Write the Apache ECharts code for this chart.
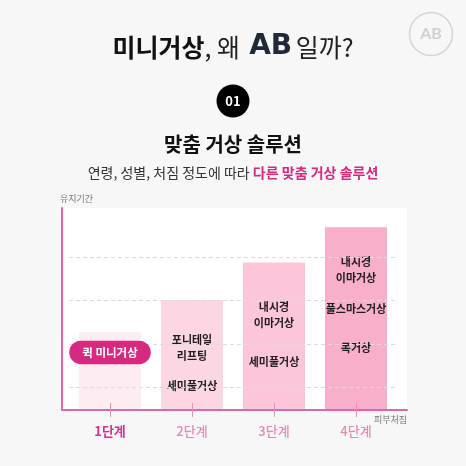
<!DOCTYPE html>
<html><head><meta charset="utf-8">
<script src="https://cdn.jsdelivr.net/npm/echarts@6/dist/echarts.min.js"></script>
<style>html,body{margin:0;padding:0;background:#f7f7f7;}#c{width:466px;height:466px;}</style>
</head><body><div id="c"></div>
<script>
// ---- data ----
const categories = ['1단계', '2단계', '3단계', '4단계'];
const durationValues = [38.5, 54.5, 73, 90.5];
const gridLevels = [11.5, 32.5, 54.5, 75.5];
const procedureNames = ['포니테일\n리프팅', '세미풀거상', '내시경\n이마거상', '세미풀거상', '내시경\n이마거상', '풀스마스거상', '목거상'];
const procedureStages = ['2단계', '2단계', '3단계', '3단계', '4단계', '4단계', '4단계'];
const procedureLevels = [30.7, 11.9, 47, 23.8, 69.3, 50, 30.7];
const highlightName = ['퀵 미니거상'];
const highlightStage = ['1단계'];
const highlightLevel = [28.5];

// ---- styles ----
const FONT = '"Noto Sans CJK KR", "Noto Sans", sans-serif';
const PINK = '#d52a80';
const AXIS = '#e066a6';
const barColors = ['#fdedf3', '#fdd6e4', '#fcc5da', '#f9aecb'];

const chart = echarts.init(document.getElementById('c'), null, {renderer: 'canvas'});
chart.setOption({
  backgroundColor: '#f7f7f7',
  animation: false,
  textStyle: {fontFamily: FONT},
  grid: [
    {left: 62, right: 59, top: 208, bottom: 56, show: true, backgroundColor: '#ffffff', borderWidth: 0},
    {left: 69, right: 69, top: 208, bottom: 56}
  ],
  xAxis: [
    {gridIndex: 0, type: 'value', min: 0, max: 1, z: 6,
     axisLine: {show: true, lineStyle: {color: AXIS, width: 2}},
     axisTick: {show: false}, axisLabel: {show: false}, splitLine: {show: false}},
    {gridIndex: 1, type: 'category', data: categories, position: 'bottom', z: 6,
     axisLine: {show: false},
     axisTick: {show: true, alignWithLabel: true, length: 7, lineStyle: {color: '#eb8fba', width: 1}},
     axisLabel: {margin: 15, fontFamily: FONT,
       formatter: (v, i) => i === 0 ? '{a|' + v + '}' : '{b|' + v + '}',
       rich: {a: {color: '#d3338a', fontSize: 13, fontWeight: 'bold', fontFamily: FONT},
              b: {color: '#e68ab5', fontSize: 13, fontWeight: 500, fontFamily: FONT}}},
     splitLine: {show: false}},
    {gridIndex: 1, type: 'category', data: categories, position: 'bottom', z: 6,
     axisLine: {show: false},
     axisTick: {show: true, inside: true, alignWithLabel: true, length: 7, lineStyle: {color: '#eb8fba', width: 1}},
     axisLabel: {show: false}, splitLine: {show: false}}
  ],
  yAxis: [
    {gridIndex: 0, type: 'value', min: 0, max: 1, z: 6,
     axisLine: {show: true, lineStyle: {color: AXIS, width: 2}},
     axisTick: {show: false}, axisLabel: {show: false}, splitLine: {show: false}},
    {gridIndex: 1, type: 'value', min: 0, max: 100, show: false, splitLine: {show: false}}
  ],
  series: [
    {type: 'line', xAxisIndex: 1, yAxisIndex: 1, data: [], z: 1, silent: true,
     markLine: {symbol: 'none', silent: true, label: {show: false},
       lineStyle: {color: '#dcdcdc', type: [4, 3], width: 1},
       data: gridLevels.map(v => ({yAxis: v}))}},
    {type: 'bar', xAxisIndex: 1, yAxisIndex: 1, barWidth: 62, z: 2,
     data: durationValues.map((v, i) => ({value: v, itemStyle: {color: barColors[i]}}))},
    {type: 'scatter', xAxisIndex: 1, yAxisIndex: 1, symbolSize: 0, z: 4,
     itemStyle: {opacity: 1},
     data: procedureNames.map((n, i) => ({name: n, value: [procedureStages[i], procedureLevels[i]]})),
     label: {show: true, position: 'inside', formatter: p => p.name, color: '#1e1e1e',
       fontSize: 11, fontWeight: 'bold', lineHeight: 16, fontFamily: FONT}},
    {type: 'scatter', xAxisIndex: 1, yAxisIndex: 1, symbolSize: 0, z: 5,
     itemStyle: {opacity: 1},
     data: highlightName.map((n, i) => ({name: n, value: [highlightStage[i], highlightLevel[i]]})),
     label: {show: true, position: 'inside', formatter: p => p.name, color: '#fff',
       fontSize: 11.5, fontWeight: 'bold', fontFamily: FONT,
       backgroundColor: PINK, borderRadius: 13, padding: [6, 13, 6, 13]}}
  ],
  graphic: [
    {type: 'text', left: 'center', top: 33, style: {
      text: '{b|미니거상}{r|, 왜 }{ab|AB}{r|일까?}',
      rich: {
        b: {fontSize: 25, fontWeight: 'bold', fill: '#111', fontFamily: FONT},
        r: {fontSize: 25, fontWeight: 'normal', fill: '#222', fontFamily: FONT},
        ab: {fontSize: 28, fontWeight: 'bold', fill: '#1f2937', fontFamily: '"DejaVu Sans", sans-serif',
             width: 50, align: 'center'}
      }}},
    {type: 'circle', shape: {cx: 431, cy: 34, r: 21.5}, style: {fill: 'none', stroke: '#d4d4d4', lineWidth: 1.5}},
    {type: 'text', x: 431, y: 34, style: {text: 'AB', fill: '#d0d0d0', fontSize: 16, fontWeight: 'bold',
      fontFamily: 'Lato, sans-serif', align: 'center', verticalAlign: 'middle'}},
    {type: 'circle', shape: {cx: 233, cy: 101, r: 16.5}, style: {fill: '#000'}},
    {type: 'text', x: 233, y: 101, style: {text: '01', fill: '#fff', fontSize: 13, fontWeight: 'bold',
      fontFamily: FONT, align: 'center', verticalAlign: 'middle'}},
    {type: 'text', x: 233, y: 144, style: {text: '맞춤 거상 솔루션', fill: '#111', fontSize: 20, fontWeight: 'bold',
      fontFamily: FONT, align: 'center', verticalAlign: 'middle'}},
    {type: 'text', x: 233, y: 173, style: {
      text: '{r|연령, 성별, 처짐 정도에 따라 }{p|다른 맞춤 거상 솔루션}',
      align: 'center', verticalAlign: 'middle',
      rich: {r: {fontSize: 14, fill: '#333', fontFamily: FONT},
             p: {fontSize: 14, fill: PINK, fontWeight: 'bold', fontFamily: FONT}}}},
    {type: 'text', x: 60, y: 199, style: {text: '유지기간', fill: '#777', fontSize: 9, fontFamily: FONT, verticalAlign: 'middle'}},
    {type: 'text', x: 407, y: 420, style: {text: '피부처짐', fill: '#777', fontSize: 9, fontFamily: FONT, align: 'right', verticalAlign: 'middle'}}
  ]
});
</script></body></html>
